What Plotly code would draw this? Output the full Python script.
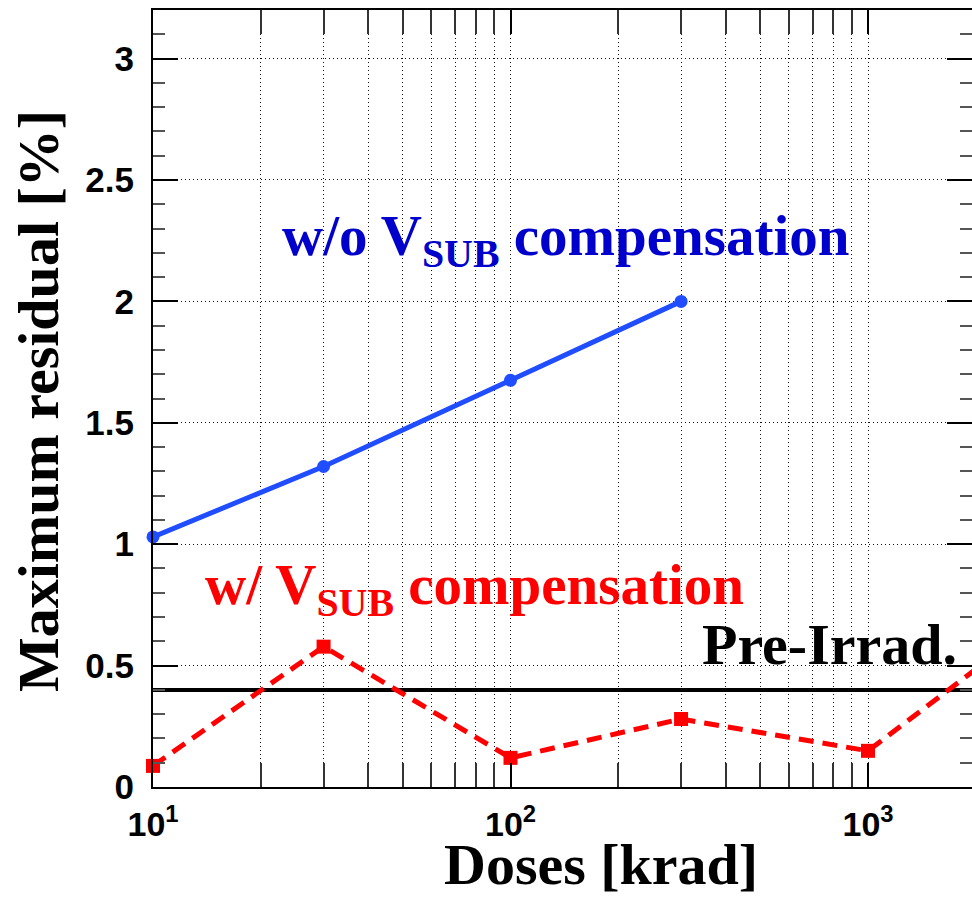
import plotly.graph_objects as go

# Radiation dose steps [krad]
doses_wo = [10, 30, 100, 300]
residual_wo = [1.03, 1.32, 1.675, 2.0]          # without V_SUB compensation

doses_w = [10, 30, 100, 300, 1000, 3000]
residual_w = [0.087, 0.578, 0.12, 0.28, 0.149, 0.68]  # with V_SUB compensation

pre_irrad_level = 0.40                          # pre-irradiation reference
pre_irrad_span = [10, 3000]

x_major = [10, 100, 1000]
x_major_text = ["<b>10<sup>1</sup></b>", "<b>10<sup>2</sup></b>", "<b>10<sup>3</sup></b>"]
x_minor = [m * d for d in (10, 100, 1000) for m in range(2, 10)]
y_major = [0, 0.5, 1, 1.5, 2, 2.5, 3]
y_major_text = ["<b>0</b>", "<b>0.5</b>", "<b>1</b>", "<b>1.5</b>", "<b>2</b>", "<b>2.5</b>", "<b>3</b>"]

W, H = 972, 897
L, R, T, B = 153, 0, 10, 110
plot_w = W - L - R
plot_h = H - T - B
decade_px = 357.5
x_max_log = 1 + plot_w / decade_px
x_max = 10 ** x_max_log

SANS = "Liberation Sans, Arial, sans-serif"
SERIF = "Liberation Serif, Times New Roman, serif"
GRID_DASH = "1px,3px"
GRID_COLOR = "#111"
BLUE = "#1f4dff"
RED = "#ff0000"

fig = go.Figure()

fig.add_trace(go.Scatter(
    x=pre_irrad_span, y=[pre_irrad_level] * len(pre_irrad_span),
    mode="lines", line=dict(color="black", width=4),
    showlegend=False, hoverinfo="skip",
))
fig.add_trace(go.Scatter(
    x=doses_wo, y=residual_wo, mode="lines+markers",
    line=dict(color=BLUE, width=5),
    marker=dict(symbol="circle", size=13, color=BLUE),
    cliponaxis=False, showlegend=False,
))
# dashed connection (clipped at the frame) plus the markers inside the range
fig.add_trace(go.Scatter(
    x=doses_w, y=residual_w, mode="lines",
    line=dict(color=RED, width=5, dash="15px,9px"),
    showlegend=False, hoverinfo="skip",
))
in_range = [i for i, d in enumerate(doses_w) if d <= x_max]
fig.add_trace(go.Scatter(
    x=[doses_w[i] for i in in_range], y=[residual_w[i] for i in in_range],
    mode="markers", marker=dict(symbol="square", size=14, color=RED),
    cliponaxis=False, showlegend=False,
))
# carrier trace for the right-hand tick axis
fig.add_trace(go.Scatter(
    x=[doses_wo[0]], y=[residual_wo[0]], yaxis="y2", mode="markers",
    marker=dict(opacity=0), showlegend=False, hoverinfo="skip",
))

fig.update_xaxes(
    type="log", range=[1, x_max_log],
    tickvals=x_major, ticktext=x_major_text,
    ticks="inside", ticklen=24, tickwidth=2, tickcolor="black",
    showline=True, linewidth=2, linecolor="black", mirror="allticks",
    showgrid=True, gridcolor=GRID_COLOR, gridwidth=1, griddash=GRID_DASH,
    zeroline=False,
    tickfont=dict(family=SANS, size=34, color="black", weight="bold"),
    ticklabelstandoff=6,
    minor=dict(tickvals=x_minor, ticks="inside", ticklen=11, tickwidth=1.5,
               tickcolor="#333", showgrid=True, gridcolor=GRID_COLOR,
               gridwidth=1, griddash=GRID_DASH),
)

y_common = dict(
    range=[0, 3.2],
    tickvals=y_major,
    ticks="inside", ticklen=25, tickwidth=2, tickcolor="black",
    zeroline=False,
    minor=dict(dtick=0.1, tick0=0, ticks="inside", ticklen=12, tickwidth=1.5,
               tickcolor="#555", showgrid=False),
)
fig.update_layout(
    yaxis=dict(
        **y_common,
        ticktext=y_major_text,
        showline=True, linewidth=2, linecolor="black", mirror=False,
        showgrid=True, gridcolor=GRID_COLOR, gridwidth=1, griddash=GRID_DASH,
        tickfont=dict(family=SANS, size=35, color="black", weight="bold"),
        ticklabelstandoff=10,
    ),
    yaxis2=dict(
        **y_common,
        overlaying="y", side="right", showticklabels=False,
        showline=False, showgrid=False,
    ),
)


def px_x(px):
    return (px - L) / plot_w


def px_y(py):
    return (H - B - py) / plot_h


annotations = [
    dict(text="<b>Maximum residual [%]</b>", x=px_x(38), y=px_y(401),
         textangle=-90, font=dict(family=SERIF, size=58, color="black")),
    dict(text="<b>Doses [krad]</b>", x=px_x(601), y=px_y(864),
         font=dict(family=SERIF, size=58, color="black")),
    dict(text="<b>w/o V<sub>SUB</sub> compensation</b>", x=px_x(280), y=px_y(240),
         xanchor="left", font=dict(family=SERIF, size=57, color="#0000cc")),
    dict(text="<b>w/ V<sub>SUB</sub> compensation</b>", x=px_x(203), y=px_y(589),
         xanchor="left", font=dict(family=SERIF, size=57, color=RED)),
    dict(text="<b>Pre-Irrad.</b>", x=px_x(700), y=px_y(644),
         xanchor="left", font=dict(family=SERIF, size=58, color="black")),
]
for a in annotations:
    a.setdefault("xanchor", "center")
    a.update(xref="paper", yref="paper", yanchor="middle", showarrow=False)

fig.update_layout(
    width=W, height=H,
    margin=dict(l=L, r=R, t=T, b=B),
    paper_bgcolor="white", plot_bgcolor="white",
    annotations=annotations,
    showlegend=False,
)

fig.write_html("out.html")
